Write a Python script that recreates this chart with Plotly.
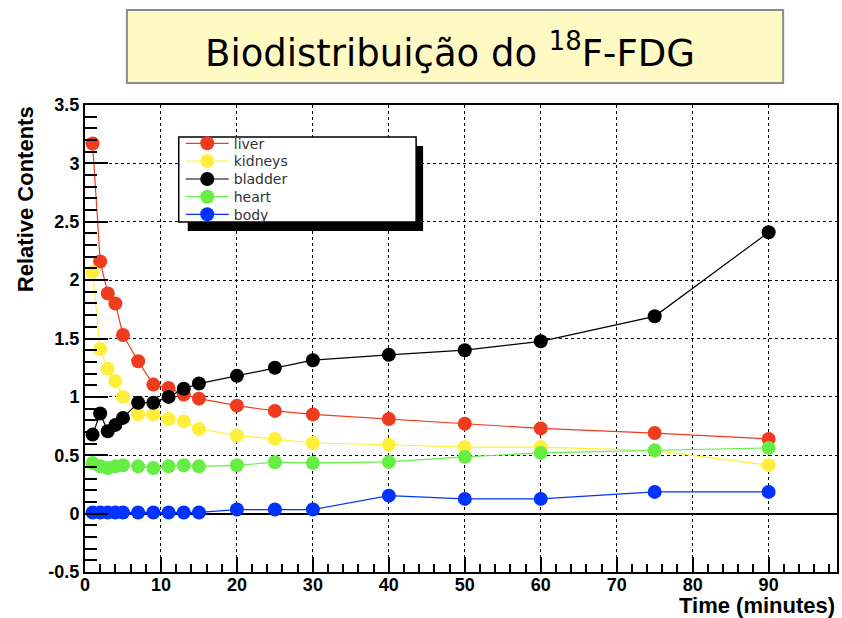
import plotly.graph_objects as go

# sampling times (minutes)
times = [1, 2, 3, 4, 5, 7, 9, 11, 13, 15, 20, 25, 30, 40, 50, 60, 75, 90]

# relative contents per organ
liver = [3.17, 2.16, 1.885, 1.80, 1.53, 1.305, 1.105, 1.077, 1.02, 0.985,
         0.925, 0.88, 0.85, 0.81, 0.77, 0.73, 0.69, 0.64]
kidneys = [2.07, 1.41, 1.24, 1.135, 1.0, 0.85, 0.85, 0.81, 0.79, 0.725,
           0.67, 0.64, 0.605, 0.59, 0.57, 0.57, 0.54, 0.415]
bladder = [0.677, 0.857, 0.705, 0.76, 0.82, 0.95, 0.95, 1.0, 1.07, 1.114,
           1.18, 1.25, 1.314, 1.36, 1.40, 1.476, 1.69, 2.41]
heart = [0.434, 0.405, 0.39, 0.405, 0.414, 0.405, 0.39, 0.405, 0.414, 0.405,
         0.414, 0.44, 0.434, 0.443, 0.486, 0.52, 0.542, 0.563]
body = [0.01, 0.01, 0.01, 0.01, 0.01, 0.01, 0.01, 0.01, 0.01, 0.01,
        0.035, 0.035, 0.035, 0.154, 0.126, 0.126, 0.186, 0.186]

series_names = ['liver', 'kidneys', 'bladder', 'heart', 'body']
series_values = [liver, kidneys, bladder, heart, body]
series_colors = ['#F03C1E', '#FFEF3A', '#000000', '#66EE44', '#0033FF']

y_tick_vals = [-0.5, 0, 0.5, 1, 1.5, 2, 2.5, 3, 3.5]
y_tick_text = ['-0.5', '0', '0.5', '1', '1.5', '2', '2.5', '3', '3.5']
x_tick_vals = [0, 10, 20, 30, 40, 50, 60, 70, 80, 90]

W, H = 842, 618
L, R, T, B = 85, 3, 105, 46
PW, PH = W - L - R, H - T - B


# pixel -> paper helpers for decorations
def px_x(p):
    return (p - L) / PW


def px_y(p):
    return (H - B - p) / PH


fig = go.Figure()
for i, (name, vals, col) in enumerate(zip(series_names, series_values, series_colors)):
    fig.add_trace(go.Scatter(
        x=times, y=vals, name=name, mode='lines+markers',
        line=dict(color=col, width=1.2),
        marker=dict(color=col, size=14, symbol='circle'),
        legend='legend' if i == 0 else f'legend{i + 1}',
    ))

bold = dict(family='Liberation Sans', size=18, color='black', weight='bold')

fig.update_layout(
    width=W, height=H,
    margin=dict(l=L, r=R, t=T, b=B),
    paper_bgcolor='white', plot_bgcolor='white',
    showlegend=True,
    xaxis=dict(
        range=[0, 99], tickmode='array', tickvals=x_tick_vals,
        ticks='inside', ticklen=15, tickwidth=1.5, tickcolor='black',
        tickfont=bold, ticklabelstandoff=-5,
        showline=True, linecolor='black', linewidth=2, mirror=True,
        showgrid=True, gridcolor='black', gridwidth=1, griddash='dot',
        zeroline=False,
        minor=dict(dtick=2, tick0=0, ticks='inside', ticklen=8,
                   tickwidth=1.5, tickcolor='black', showgrid=False),
    ),
    yaxis=dict(
        range=[-0.5, 3.5], tickmode='array', tickvals=y_tick_vals, ticktext=y_tick_text,
        ticks='inside', ticklen=23, tickwidth=1.5, tickcolor='black',
        tickfont=bold,
        showline=True, linecolor='black', linewidth=2, mirror=True,
        showgrid=True, gridcolor='black', gridwidth=1, griddash='dot',
        zeroline=True, zerolinecolor='black', zerolinewidth=1.5,
        minor=dict(dtick=0.1, tick0=0, ticks='inside', ticklen=12,
                   tickwidth=1.5, tickcolor='black', showgrid=False),
    ),
)

# legend: framed box with shadow, one entry per legend so spacing follows the reference
entry_y = [143.3, 161, 179, 196.7, 214.3]
for i, ey in enumerate(entry_y):
    key = 'legend' if i == 0 else f'legend{i + 1}'
    fig.update_layout({key: dict(
        x=px_x(181), y=px_y(ey - 15.6), xanchor='left', yanchor='top',
        bgcolor='rgba(0,0,0,0)', borderwidth=0, itemwidth=43,
        font=dict(family='DejaVu Sans', size=14, color='#333333'),
    )})

fig.add_shape(type='rect', xref='paper', yref='paper', layer='above',
              x0=px_x(188), x1=px_x(424), y0=px_y(231), y1=px_y(146),
              fillcolor='black', line=dict(width=0))
fig.add_shape(type='rect', xref='paper', yref='paper', layer='above',
              x0=px_x(179), x1=px_x(417), y0=px_y(222), y1=px_y(137),
              fillcolor='white', line=dict(color='black', width=1.5))

# title box
fig.add_shape(type='rect', xref='paper', yref='paper',
              x0=px_x(127), x1=px_x(785), y0=px_y(83), y1=px_y(10),
              fillcolor='#FFF9C4', line=dict(color='#8C8C8C', width=2))
fig.add_annotation(text='Biodistribuição do <sup>18</sup>F-FDG',
                   xref='paper', yref='paper', x=px_x(451), y=px_y(50),
                   xanchor='center', yanchor='middle', showarrow=False,
                   font=dict(family='DejaVu Sans', size=37, color='black'))

# axis titles
title_font = dict(family='Liberation Sans', size=22, color='black', weight='bold')
fig.add_annotation(text='Relative Contents', textangle=-90,
                   xref='paper', yref='paper', x=px_x(25), y=px_y(199),
                   xanchor='center', yanchor='middle', showarrow=False, font=title_font)
fig.add_annotation(text='Time (minutes)',
                   xref='paper', yref='paper', x=px_x(839), y=px_y(605),
                   xanchor='right', yanchor='middle', showarrow=False, font=title_font)

# page body margin would shift the fixed-size figure
fig.write_html('out.html', config={'displayModeBar': False},
               post_script="document.body.style.margin='0';")
